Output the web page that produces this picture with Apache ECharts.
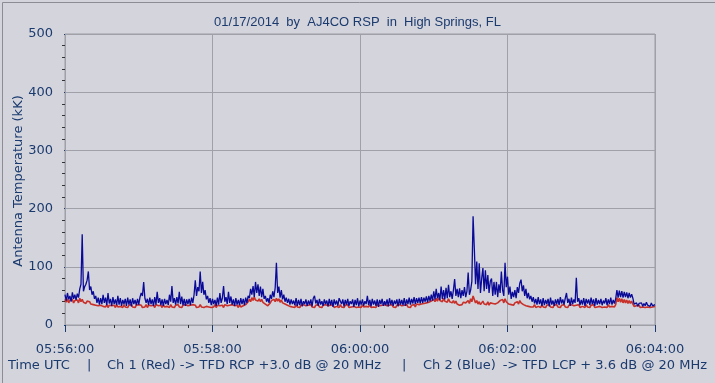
<!DOCTYPE html>
<html><head><meta charset="utf-8">
<script src="https://cdn.jsdelivr.net/npm/echarts@6/dist/echarts.min.js"></script>
<style>html,body{margin:0;padding:0;background:#d4d4dc}#c{width:715px;height:383px}</style>
</head><body><div id="c"></div><script>
// one sample per second, starting at 05:56:00 UTC
const stepSeconds = 1;
const xTickLabels = ['05:56:00','05:58:00','06:00:00','06:02:00','06:04:00'];
const titleText = '01/17/2014  by  AJ4CO RSP  in  High Springs, FL';
const yAxisName = 'Antenna Temperature (kK)';

const ch2Blue = [
52,42,55,44,50,40,56,45,52,43,
54,47,62,70,156,58,66,70,77,92,
60,66,52,58,45,50,38,47,35,46,
36,52,38,47,34,55,37,45,33,48,
36,44,34,50,35,46,33,43,36,45,
33,47,35,44,32,46,36,43,34,45,
35,48,55,50,74,46,38,45,34,47,
36,44,33,48,35,57,38,46,34,44,
33,45,36,43,34,52,40,67,38,46,
35,48,37,57,36,49,34,45,33,44,
36,45,34,47,38,52,77,50,65,58,
92,55,74,52,60,44,50,38,46,34,
45,36,43,33,47,35,55,38,46,67,
40,48,36,57,38,49,35,44,33,46,
35,43,34,46,36,45,34,47,38,50,
46,62,52,67,48,74,55,70,50,66,
48,62,45,50,40,46,38,52,45,58,
48,64,107,55,66,47,60,44,52,40,
47,38,45,35,44,36,42,34,46,33,
43,34,45,32,41,36,44,33,42,35,
44,32,46,50,37,43,33,45,35,41,
33,44,36,42,32,45,34,43,31,44,
35,42,33,46,48,36,44,32,43,35,
45,33,41,36,44,31,43,34,46,32,
42,35,44,33,41,36,50,34,43,32,
45,35,42,33,44,31,43,36,45,33,
41,34,44,32,46,35,43,33,42,36,
44,32,45,35,43,34,46,33,44,36,
47,35,45,37,48,36,46,38,47,37,
48,38,47,40,49,39,50,41,52,42,
58,44,62,46,55,43,66,45,60,44,
64,46,69,48,58,45,60,79,50,62,
48,63,46,60,50,65,48,58,90,52,
60,75,187,132,70,109,62,106,55,80,
98,58,94,62,86,55,75,80,50,74,
52,74,48,70,55,92,60,50,107,65,
83,52,66,45,57,48,60,46,65,55,
72,78,58,68,50,62,46,55,44,50,
40,48,37,45,35,48,36,44,33,46,
34,43,36,45,32,47,35,42,33,44,
36,45,34,48,37,44,35,46,55,38,
45,33,47,36,44,38,81,40,46,34,
43,35,46,33,45,37,44,34,47,36,
44,33,46,35,43,36,45,34,42,37,
46,34,44,36,47,35,43,37,45,60,
47,59,48,58,47,57,48,56,46,55,
47,53,46,36,33,38,32,37,34,38,
32,37,33,39,34,37,32,38,33,36,
35];

const ch1Red = [
44,39,45,38,43,40,44,38,42,39,
43,38,46,40,44,39,42,37,41,38,
40,36,39,35,38,34,37,33,36,34,
35,32,34,31,35,30,34,32,33,31,
34,30,35,31,33,32,34,30,35,31,
33,30,34,32,35,31,33,30,34,31,
35,32,34,30,33,31,35,30,34,32,
33,31,34,30,35,32,33,31,34,30,
35,31,33,32,34,30,35,31,33,30,
34,32,35,31,33,30,34,31,35,32,
33,30,34,31,35,32,34,30,33,31,
35,31,34,30,33,32,35,31,34,30,
33,31,35,30,34,32,33,31,34,30,
35,32,33,30,34,31,35,32,33,31,
34,30,35,31,34,33,36,35,38,40,
44,40,47,42,48,43,46,41,45,40,
44,39,42,36,35,33,36,38,42,39,
44,40,46,41,45,39,43,38,41,36,
38,34,36,32,35,31,34,30,35,31,
33,30,34,31,35,32,33,30,34,31,
35,31,33,30,34,32,35,31,33,30,
34,31,35,32,33,30,34,31,35,30,
33,32,34,30,35,31,33,30,34,32,
35,30,33,31,34,32,35,30,33,31,
34,30,35,31,33,32,34,31,35,30,
33,31,34,30,35,32,33,30,34,31,
35,32,33,30,34,31,35,31,33,30,
34,31,35,32,33,30,34,32,35,31,
33,30,34,32,35,31,36,33,35,34,
36,34,37,35,38,36,39,37,41,38,
44,40,46,41,47,42,45,40,46,41,
44,39,45,40,43,38,42,37,41,36,
38,34,37,35,39,36,38,35,42,37,
45,40,50,44,38,42,36,40,35,38,
41,36,39,35,40,34,38,36,37,35,
36,34,38,35,42,39,44,38,45,40,
41,36,39,35,37,34,38,35,40,36,
42,38,40,35,37,33,36,32,35,31,
34,31,35,30,33,32,34,30,35,31,
33,30,34,32,35,31,33,30,34,31,
35,31,33,30,34,32,35,31,33,30,
34,31,35,32,33,30,34,31,35,30,
33,32,34,30,35,31,33,30,34,32,
35,30,33,31,34,32,35,30,33,31,
34,30,35,31,33,32,34,31,35,47,
40,46,39,45,38,44,38,43,37,42,
37,41,36,32,30,33,31,34,30,33,
31,34,30,33,31,34,30,33,31,34,
32];

const toPairs = arr => arr.map((v, i) => [i * stepSeconds, v]);
const navy = '#1b3b6f';
const font = '"DejaVu Sans", Verdana, sans-serif';
const txt = (x, text, align) => ({type: 'text', x: x, y: 366,
  style: {text: text, fontFamily: font, fontSize: 13, fill: navy, align: align || 'left', verticalAlign: 'middle'}});

const chart = echarts.init(document.getElementById('c'), null, {renderer: 'canvas'});
chart.setOption({
  animation: false,
  backgroundColor: '#d4d4dc',
  grid: {left: 65, right: 60, top: 34, bottom: 58, show: true, borderColor: '#9c9ca4', borderWidth: 1, backgroundColor: 'transparent'},
  title: {text: titleText, left: 'center', top: 11,
    textStyle: {fontFamily: '"Liberation Sans", Arial, sans-serif', fontSize: 13, fontWeight: 'normal', color: navy}},
  xAxis: {
    type: 'value', min: 0, max: 480, interval: 120, offset: 3,
    axisLine: {show: false},
    axisTick: {show: true, length: 7, lineStyle: {color: navy}},
    minorTick: {show: true, splitNumber: 6, length: 3, lineStyle: {color: '#333'}},
    splitLine: {show: true, lineStyle: {color: '#a0a0a8', width: 1}},
    axisLabel: {margin: 15, fontFamily: font, fontSize: 13, color: navy,
      formatter: v => xTickLabels[Math.round(v / 120)] || ''}
  },
  yAxis: {
    type: 'value', min: 0, max: 500, interval: 100, offset: 4,
    axisLine: {show: false},
    axisTick: {show: true, length: 1, lineStyle: {color: navy}},
    minorTick: {show: true, splitNumber: 5, length: 3, lineStyle: {color: '#333'}},
    splitLine: {show: true, lineStyle: {color: '#a0a0a8', width: 1}},
    axisLabel: {margin: 8, fontFamily: font, fontSize: 13, color: navy}
  },
  series: [
    {name: 'Ch 1 (Red)', type: 'line', data: toPairs(ch1Red), showSymbol: false,
      lineStyle: {color: '#c8302a', width: 1.6}, z: 2},
    {name: 'Ch 2 (Blue)', type: 'line', data: toPairs(ch2Blue), showSymbol: false,
      lineStyle: {color: '#0a0a98', width: 1.3}, z: 3}
  ],
  graphic: [
    {type: 'rect', left: 0, top: 0, shape: {width: 714, height: 382},
      style: {fill: 'none', stroke: '#8c8c94', lineWidth: 1}, silent: true},
    {type: 'text', x: 19, y: 181, rotation: Math.PI / 2,
      style: {text: yAxisName, fontFamily: font, fontSize: 13, fill: navy, align: 'center', verticalAlign: 'middle'}},
    txt(8, 'Time UTC'),
    txt(87, '|'),
    txt(107, 'Ch 1 (Red) -> TFD RCP +3.0 dB @ 20 MHz'),
    txt(402, '|'),
    txt(423, 'Ch 2 (Blue)'),
    txt(707, '-> TFD LCP + 3.6 dB @ 20 MHz', 'right')
  ]
});
</script></body></html>
